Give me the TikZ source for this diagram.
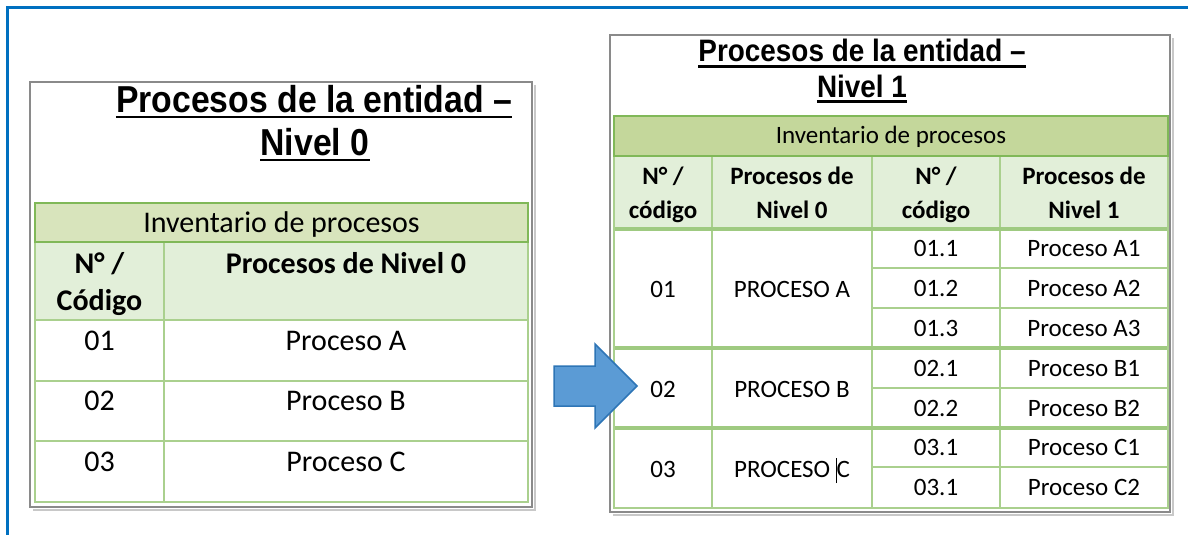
\documentclass[tikz,border=0pt]{standalone}
\usepackage{fontspec}
\setmainfont{Carlito}
\newfontfamily\titlefont[FakeStretch=0.9]{Liberation Sans}
\usetikzlibrary{calc}
\definecolor{blueframe}{RGB}{0,112,192}
\definecolor{grayframe}{RGB}{138,138,138}
\definecolor{shadowc}{RGB}{200,200,200}
\definecolor{hdrL}{RGB}{216,228,188}
\definecolor{hdrR}{RGB}{196,215,155}
\definecolor{subhdr}{RGB}{226,239,217}
\definecolor{gridc}{RGB}{170,208,142}
\definecolor{edgec}{RGB}{128,184,88}
\definecolor{arrowfill}{RGB}{91,155,213}
\definecolor{arrowline}{RGB}{46,117,182}
\begin{document}
\begin{tikzpicture}[x=1pt,y=-1pt,
  titleL/.style={font=\titlefont\bfseries\fontsize{37.5}{42}\selectfont, anchor=base, inner sep=0pt},
  titleR/.style={font=\titlefont\bfseries\fontsize{31}{35}\selectfont, anchor=base, inner sep=0pt},
  txtL/.style={font=\fontsize{30}{36}\selectfont, anchor=base, inner sep=0pt},
  txtLb/.style={font=\bfseries\fontsize{30}{36}\selectfont, anchor=base, inner sep=0pt},
  txtR/.style={font=\fontsize{25}{30}\selectfont, anchor=base, inner sep=0pt},
  txtRb/.style={font=\bfseries\fontsize{25}{30}\selectfont, anchor=base, inner sep=0pt},
  uline/.style={line width=2.2pt, black},
  frameline/.style={grayframe, line width=2.5pt},
  gridline/.style={gridc, line width=2.5pt},
  groupline/.style={gridc!75!edgec, line width=3.5pt},
  edgeline/.style={edgec, line width=2.5pt}
]
\useasboundingbox (0,0) rectangle (1188,535);
\fill[white] (0,0) rectangle (1188,535);

% outer blue border
\draw[blueframe, line width=3pt] (7,535) -- (7,8) -- (1188,8);

% ---------------- left panel ----------------
\draw[shadowc, line width=2pt] (33,509.5) -- (534.5,509.5) -- (534.5,85);
\draw[frameline] (30,82) rectangle (532,507);

\node[titleL] (tl1) at (314,112) {Procesos de la entidad –};
\node[titleL] (tl2) at (315,155) {Nivel 0};
\draw[uline] ($(tl1.base west)+(0,5)$) -- ($(tl1.base east)+(0,5)$);
\draw[uline] ($(tl2.base west)+(0,5)$) -- ($(tl2.base east)+(0,5)$);

\fill[hdrL] (35,203) rectangle (528,242);
\fill[subhdr] (35,242) rectangle (528,320);
\draw[gridline] (35,242) rectangle (528,502);
\draw[gridline] (164,242) -- (164,502);
\draw[gridline] (35,320) -- (528,320);
\draw[gridline] (35,381) -- (528,381);
\draw[gridline] (35,441) -- (528,441);
\draw[edgeline] (35,203) rectangle (528,242);

\node[txtL] (linv) at (281.5,232) {Inventario de procesos};
\node[txtLb] (lh1a) at (99.5,273) {N° /};
\node[txtLb] (lh1b) at (99.5,310) {Código};
\node[txtLb] (lh2) at (346,273) {Procesos de Nivel 0};
\node[txtL] (lc1) at (99.5,350) {01};
\node[txtL] (lp1) at (346,350) {Proceso A};
\node[txtL] (lc2) at (99.5,410.5) {02};
\node[txtL] (lp2) at (346,410.5) {Proceso B};
\node[txtL] (lc3) at (99.5,471) {03};
\node[txtL] (lp3) at (346,471) {Proceso C};

% ---------------- right panel ----------------
\draw[shadowc, line width=2pt] (613,514.5) -- (1172.5,514.5) -- (1172.5,38);
\draw[frameline] (610,35) rectangle (1170,512);

\node[titleR] (tr1) at (862,62) {Procesos de la entidad –};
\node[titleR] (tr2) at (862,97) {Nivel 1};
\draw[uline] ($(tr1.base west)+(0,4.5)$) -- ($(tr1.base east)+(0,4.5)$);
\draw[uline] ($(tr2.base west)+(0,4.5)$) -- ($(tr2.base east)+(0,4.5)$);

\fill[hdrR] (614,116) rectangle (1168,156);
\fill[subhdr] (614,156) rectangle (1168,229);
\fill[white] (614,229) rectangle (1168,508);
% inner lines
\draw[gridline] (872,268) -- (1168,268);
\draw[gridline] (872,308) -- (1168,308);
\draw[gridline] (872,388) -- (1168,388);
\draw[gridline] (872,467) -- (1168,467);
\draw[gridline] (712,156) -- (712,508);
\draw[gridline] (872,156) -- (872,508);
\draw[gridline] (1000,156) -- (1000,508);
\draw[groupline] (614,229) -- (1168,229);
\draw[groupline] (614,348) -- (1168,348);
\draw[groupline] (614,428) -- (1168,428);
\draw[gridline] (614,156) rectangle (1168,508);
\draw[edgeline] (614,116) rectangle (1168,156);

\node[txtR] (rinv) at (891,143) {Inventario de procesos};
\node[txtRb] (rh1a) at (663,184) {N° /};
\node[txtRb] (rh1b) at (663,218) {código};
\node[txtRb] (rh2a) at (792,184) {Procesos de};
\node[txtRb] (rh2b) at (792,218) {Nivel 0};
\node[txtRb] (rh3a) at (936,184) {N° /};
\node[txtRb] (rh3b) at (936,218) {código};
\node[txtRb] (rh4a) at (1084,184) {Procesos de};
\node[txtRb] (rh4b) at (1084,218) {Nivel 1};

\node[txtR] (rg1) at (663,297) {01};
\node[txtR] (rgp1) at (792,297) {PROCESO A};
\node[txtR] (rg2) at (663,397) {02};
\node[txtR] (rgp2) at (792,397) {PROCESO B};
\node[txtR] (rg3) at (663,477) {03};
\node[txtR] (rgp3) at (792,477) {PROCESO \rule[-6pt]{0.7pt}{25pt}C};

\node[txtR] (c11) at (936,256) {01.1};
\node[txtR] (p11) at (1084,256) {Proceso A1};
\node[txtR] (c12) at (936,296) {01.2};
\node[txtR] (p12) at (1084,296) {Proceso A2};
\node[txtR] (c13) at (936,336) {01.3};
\node[txtR] (p13) at (1084,336) {Proceso A3};
\node[txtR] (c21) at (936,376) {02.1};
\node[txtR] (p21) at (1084,376) {Proceso B1};
\node[txtR] (c22) at (936,416) {02.2};
\node[txtR] (p22) at (1084,416) {Proceso B2};
\node[txtR] (c31) at (936,455.5) {03.1};
\node[txtR] (p31) at (1084,455.5) {Proceso C1};
\node[txtR] (c32) at (936,495.5) {03.1};
\node[txtR] (p32) at (1084,495.5) {Proceso C2};

% ---------------- arrow ----------------
\draw[arrowline, fill=arrowfill, line width=1.5pt, line join=miter]
  (554,366) -- (595,366) -- (595,344) -- (637,386) -- (595,428) -- (595,406) -- (554,406) -- cycle;
\end{tikzpicture}
\end{document}
